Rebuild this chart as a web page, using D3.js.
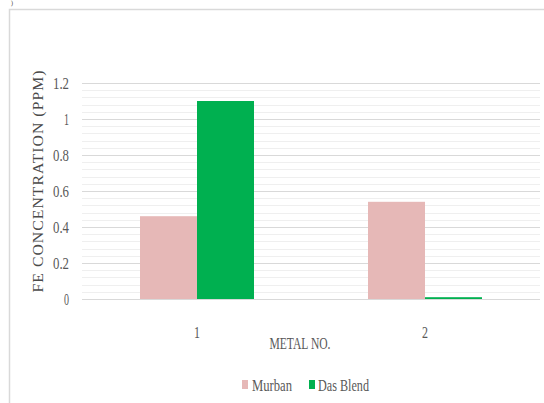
<!DOCTYPE html>
<html>
<head>
<meta charset="utf-8">
<script src="https://cdn.jsdelivr.net/npm/d3@7"></script>
<style>
  html, body { margin: 0; padding: 0; background: #fff; }
  svg { display: block; }
  text { font-family: "Liberation Serif", "DejaVu Serif", serif; }
</style>
</head>
<body>
<script>
// Fe concentration per metal sample, two crude blends
const categories = ["1", "2"];
const seriesNames = ["Murban", "Das Blend"];
const murban = [0.46, 0.54];
const dasBlend = [1.10, 0.01];
const yTicks = [0, 0.2, 0.4, 0.6, 0.8, 1, 1.2];
const yTickLabels = ["0", "0.2", "0.4", "0.6", "0.8", "1", "1.2"];
const colors = ["#e6b8b7", "#00b050"];

const W = 544, H = 403;
const svg = d3.select("body").append("svg").attr("width", W).attr("height", H);

// chart frame (only left/top edges fall inside the view)
svg.append("rect")
  .attr("x", 9.5).attr("y", 9.5).attr("width", 700).attr("height", 700)
  .attr("fill", "none").attr("stroke", "#d9d9d9").attr("stroke-width", 1.5);

// panel letter remnant above the frame
svg.append("text").attr("x", 11).attr("y", 5).attr("font-size", 6)
  .attr("fill", "#333").text(")");

const plot = { left: 83, right: 539, top: 83, bottom: 299 };

const x0 = d3.scaleBand().domain(categories).range([plot.left, plot.right]);
const x1 = d3.scaleBand().domain(seriesNames)
  .range([x0.bandwidth() * 0.25, x0.bandwidth() * 0.75]);
const y = d3.scaleLinear().domain([0, 1.2]).range([plot.bottom, plot.top]);

// helper: narrow text fitted to a given width
function label(g, str, x, yy, size, width, anchor, opts = {}) {
  const t = g.append("text")
    .attr("x", x).attr("y", yy)
    .attr("font-size", size)
    .attr("text-anchor", anchor || "start")
    .attr("fill", opts.fill || "#595959")
    .attr("font-weight", opts.weight || "normal")
    .text(str);
  if (opts.spacing) t.attr("letter-spacing", opts.spacing);
  if (width) t.attr("textLength", width).attr("lengthAdjust", opts.adjust || "spacingAndGlyphs");
  if (opts.transform) t.attr("transform", opts.transform);
  return t;
}

// minor gridlines
const minor = d3.range(0, 1.2001, 0.04).filter(v => Math.abs(Math.round(v / 0.2) * 0.2 - v) > 1e-6);
svg.append("g").selectAll("line").data(minor).join("line")
  .attr("x1", plot.left - 1).attr("x2", plot.right + 1)
  .attr("y1", d => Math.round(y(d)) + 0.5).attr("y2", d => Math.round(y(d)) + 0.5)
  .attr("stroke", "#efefef").attr("stroke-width", 1);

// major gridlines
const yAxis = d3.axisLeft(y).tickValues(yTicks).tickSize(-(plot.right - plot.left + 2))
  .tickFormat((d, i) => yTickLabels[i]);
const gy = svg.append("g").attr("transform", `translate(${plot.left - 1},0)`).call(yAxis);
gy.select(".domain").remove();
gy.selectAll(".tick line").attr("stroke", "#d9d9d9").attr("stroke-width", 1);
gy.selectAll(".tick text").remove();

// y tick labels
yTicks.forEach((v, i) => {
  const s = yTickLabels[i];
  const w = s.length === 1 ? 5 : 16;
  label(svg, s, 69, y(v) + 6, 17, w, "end");
});

// bars
const data = categories.map((c, i) => ({ cat: c, vals: [murban[i], dasBlend[i]] }));
const groups = svg.append("g").selectAll("g").data(data).join("g")
  .attr("transform", d => `translate(${x0(d.cat)},0)`);
groups.selectAll("rect")
  .data(d => d.vals.map((v, j) => ({ key: seriesNames[j], v, j })))
  .join("rect")
  .attr("x", d => x1(d.key))
  .attr("width", x1.bandwidth())
  .attr("y", d => y(d.v))
  .attr("height", d => y(0) - y(d.v))
  .attr("fill", d => colors[d.j]);

// baseline
svg.append("line")
  .attr("x1", plot.left - 1).attr("x2", plot.right + 1)
  .attr("y1", plot.bottom + 0.5).attr("y2", plot.bottom + 0.5)
  .attr("stroke", "#d9d9d9").attr("stroke-width", 1.2);

// x tick labels
categories.forEach(c => {
  label(svg, c, x0(c) + x0.bandwidth() / 2, 338, 17, 6, "middle");
});

// axis titles
label(svg, "METAL NO.", 300, 349, 17, 61, "middle");
label(svg, "FE CONCENTRATION  (PPM)", 0, 0, 15, 223, "middle",
  { fill: "#4a4a4a", spacing: 1,
    transform: "translate(43,181) rotate(-90)" });

// legend
const legend = [
  { name: "Murban", sx: 242, tx: 252, tw: 40 },
  { name: "Das Blend", sx: 309, tx: 318, tw: 51 }
];
legend.forEach((d, i) => {
  svg.append("rect").attr("x", d.sx).attr("y", 380).attr("width", 6).attr("height", 9)
    .attr("fill", colors[i]);
  label(svg, d.name, d.tx, 391, 17, d.tw, "start");
});
</script>
</body>
</html>
